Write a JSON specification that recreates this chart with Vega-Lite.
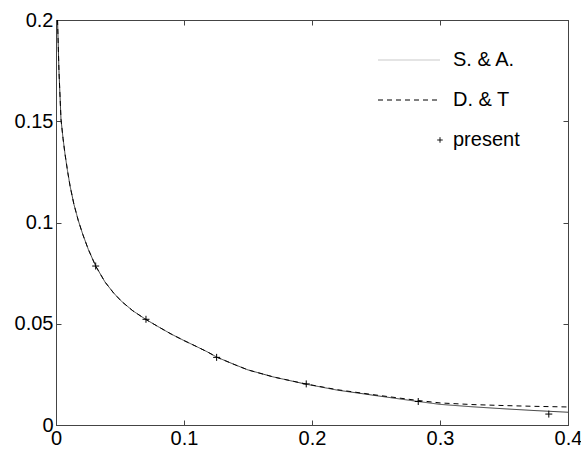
{
  "$schema": "https://vega.github.io/schema/vega-lite/v6.json",
  "width": 512,
  "height": 405,
  "autosize": {"type": "none"},
  "padding": {"left": 56, "top": 20, "right": 13, "bottom": 25},
  "background": "white",
  "config": {
    "font": "Liberation Sans",
    "view": {"stroke": "#444", "strokeWidth": 1},
    "axis": {
      "grid": false,
      "domainColor": "#444",
      "tickColor": "#444",
      "labelColor": "black",
      "labelFont": "Liberation Sans",
      "labelFontSize": 20,
      "labelFlush": false,
      "tickSize": -5,
      "labelPadding": 8,
      "title": null
    }
  },
  "datasets": {
    "curves": [
      {"x": 0.0012, "y": 0.2, "series": "S. & A."},
      {"x": 0.0023, "y": 0.175, "series": "S. & A."},
      {"x": 0.0039, "y": 0.151, "series": "S. & A."},
      {"x": 0.0055, "y": 0.1415, "series": "S. & A."},
      {"x": 0.007, "y": 0.134, "series": "S. & A."},
      {"x": 0.009, "y": 0.1255, "series": "S. & A."},
      {"x": 0.011, "y": 0.118, "series": "S. & A."},
      {"x": 0.014, "y": 0.109, "series": "S. & A."},
      {"x": 0.0174, "y": 0.101, "series": "S. & A."},
      {"x": 0.021, "y": 0.094, "series": "S. & A."},
      {"x": 0.0252, "y": 0.0868, "series": "S. & A."},
      {"x": 0.031, "y": 0.0785, "series": "S. & A."},
      {"x": 0.0383, "y": 0.0706, "series": "S. & A."},
      {"x": 0.045, "y": 0.0652, "series": "S. & A."},
      {"x": 0.0513, "y": 0.061, "series": "S. & A."},
      {"x": 0.06, "y": 0.0564, "series": "S. & A."},
      {"x": 0.07, "y": 0.0522, "series": "S. & A."},
      {"x": 0.08, "y": 0.0485, "series": "S. & A."},
      {"x": 0.09, "y": 0.0449, "series": "S. & A."},
      {"x": 0.1, "y": 0.0417, "series": "S. & A."},
      {"x": 0.1086, "y": 0.0391, "series": "S. & A."},
      {"x": 0.118, "y": 0.0362, "series": "S. & A."},
      {"x": 0.126, "y": 0.0334, "series": "S. & A."},
      {"x": 0.14, "y": 0.0297, "series": "S. & A."},
      {"x": 0.15, "y": 0.0272, "series": "S. & A."},
      {"x": 0.17, "y": 0.0237, "series": "S. & A."},
      {"x": 0.195, "y": 0.0202, "series": "S. & A."},
      {"x": 0.22, "y": 0.0172, "series": "S. & A."},
      {"x": 0.25, "y": 0.0145, "series": "S. & A."},
      {"x": 0.283, "y": 0.0116, "series": "S. & A."},
      {"x": 0.3, "y": 0.0102, "series": "S. & A."},
      {"x": 0.325, "y": 0.009, "series": "S. & A."},
      {"x": 0.35, "y": 0.008, "series": "S. & A."},
      {"x": 0.375, "y": 0.0071, "series": "S. & A."},
      {"x": 0.4, "y": 0.0063, "series": "S. & A."},
      {"x": 0.0012, "y": 0.2, "series": "D. & T"},
      {"x": 0.0023, "y": 0.175, "series": "D. & T"},
      {"x": 0.0039, "y": 0.151, "series": "D. & T"},
      {"x": 0.0055, "y": 0.1415, "series": "D. & T"},
      {"x": 0.007, "y": 0.134, "series": "D. & T"},
      {"x": 0.009, "y": 0.1255, "series": "D. & T"},
      {"x": 0.011, "y": 0.118, "series": "D. & T"},
      {"x": 0.014, "y": 0.109, "series": "D. & T"},
      {"x": 0.0174, "y": 0.101, "series": "D. & T"},
      {"x": 0.021, "y": 0.094, "series": "D. & T"},
      {"x": 0.0252, "y": 0.0868, "series": "D. & T"},
      {"x": 0.031, "y": 0.0785, "series": "D. & T"},
      {"x": 0.0383, "y": 0.0706, "series": "D. & T"},
      {"x": 0.045, "y": 0.0652, "series": "D. & T"},
      {"x": 0.0513, "y": 0.061, "series": "D. & T"},
      {"x": 0.06, "y": 0.0564, "series": "D. & T"},
      {"x": 0.07, "y": 0.0522, "series": "D. & T"},
      {"x": 0.08, "y": 0.0485, "series": "D. & T"},
      {"x": 0.09, "y": 0.0449, "series": "D. & T"},
      {"x": 0.1, "y": 0.0417, "series": "D. & T"},
      {"x": 0.1086, "y": 0.0391, "series": "D. & T"},
      {"x": 0.118, "y": 0.0362, "series": "D. & T"},
      {"x": 0.126, "y": 0.0334, "series": "D. & T"},
      {"x": 0.14, "y": 0.0297, "series": "D. & T"},
      {"x": 0.15, "y": 0.0272, "series": "D. & T"},
      {"x": 0.17, "y": 0.0237, "series": "D. & T"},
      {"x": 0.195, "y": 0.0203, "series": "D. & T"},
      {"x": 0.22, "y": 0.0174, "series": "D. & T"},
      {"x": 0.25, "y": 0.0148, "series": "D. & T"},
      {"x": 0.283, "y": 0.0121, "series": "D. & T"},
      {"x": 0.3, "y": 0.0109, "series": "D. & T"},
      {"x": 0.325, "y": 0.0101, "series": "D. & T"},
      {"x": 0.35, "y": 0.0096, "series": "D. & T"},
      {"x": 0.375, "y": 0.0092, "series": "D. & T"},
      {"x": 0.4, "y": 0.0089, "series": "D. & T"}
    ],
    "present": [
      {"x": 0.031, "y": 0.0785, "series": "present"},
      {"x": 0.0703, "y": 0.0522, "series": "present"},
      {"x": 0.1255, "y": 0.0334, "series": "present"},
      {"x": 0.1955, "y": 0.0203, "series": "present"},
      {"x": 0.283, "y": 0.0116, "series": "present"},
      {"x": 0.385, "y": 0.0054, "series": "present"}
    ]
  },
  "layer": [
    {
      "data": {"name": "curves"},
      "mark": {"type": "line", "strokeWidth": 1, "clip": true},
      "encoding": {
        "x": {"field": "x", "type": "quantitative", "scale": {"domain": [0, 0.4], "nice": false, "zero": false},
              "axis": {"orient": "bottom", "values": [0, 0.1, 0.2, 0.3, 0.4], "format": "~g"}},
        "y": {"field": "y", "type": "quantitative", "scale": {"domain": [0, 0.2], "nice": false},
              "axis": {"orient": "left", "values": [0, 0.05, 0.1, 0.15, 0.2], "format": "~g"}},
        "color": {
          "field": "series", "type": "nominal",
          "scale": {"domain": ["S. & A.", "D. & T", "present"], "range": ["#3a3a3a", "black", "black"]},
          "legend": {
            "orient": "none", "legendX": 322, "legendY": 30, "title": null,
            "labelFont": "Liberation Sans", "labelFontSize": 20, "labelColor": "black",
            "symbolType": "stroke", "symbolSize": 3844, "symbolStrokeWidth": 1,
            "clipHeight": 20,
            "labelOffset": 12, "rowPadding": 20, "padding": 0,
            "encoding": {
              "symbols": {
                "shape": {"value": {"expr": "datum.value === 'present' ? 'M-1,0L1,0M0,-1L0,1' : 'stroke'"}},
                "size": {"value": {"expr": "datum.value === 'present' ? 30 : 3844"}},
                "x": {"value": {"expr": "datum.value === 'present' ? 62 : 31"}},
                "strokeDash": {"value": {"expr": "datum.value === 'D. & T' ? [5, 4] : [1, 0]"}},
                "strokeOpacity": {"value": {"expr": "datum.value === 'S. & A.' ? 0.28 : 1"}},
                "fill": {"value": "transparent"},
                "strokeWidth": {"value": 1}
              }
            }
          }
        },
        "strokeDash": {
          "field": "series", "type": "nominal",
          "scale": {"domain": ["S. & A.", "D. & T", "present"], "range": [[1, 0], [5, 4], [1, 0]]},
          "legend": null
        }
      }
    },
    {
      "data": {"name": "present"},
      "mark": {"type": "point", "shape": "M-1,0L1,0M0,-1L0,1", "filled": false, "size": 49, "strokeWidth": 1, "opacity": 1},
      "encoding": {
        "x": {"field": "x", "type": "quantitative", "axis": {"orient": "top", "values": [0, 0.1, 0.2, 0.3, 0.4], "labels": false}},
        "y": {"field": "y", "type": "quantitative", "axis": {"orient": "right", "values": [0, 0.05, 0.1, 0.15, 0.2], "labels": false}},
        "color": {"field": "series", "type": "nominal"}
      }
    }
  ],
  "resolve": {"axis": {"x": "independent", "y": "independent"}}
}
